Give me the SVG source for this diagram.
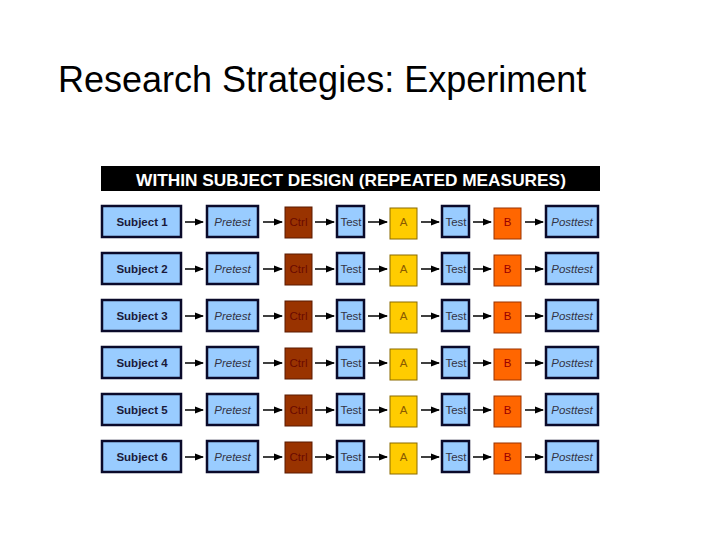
<svg xmlns="http://www.w3.org/2000/svg" width="720" height="540" viewBox="0 0 720 540">
<style>
.t{font-family:"Liberation Sans",Arial,sans-serif}
.blue{fill:#99ccff;stroke:#0a0a2a;stroke-width:2.5}
.ctrl{fill:#993300;stroke:#5a1a00;stroke-width:1}
.a{fill:#ffcc00;stroke:#8a6a00;stroke-width:1}
.b{fill:#ff6600;stroke:#993300;stroke-width:1}
.lbl{font-family:"Liberation Sans",Arial,sans-serif;font-size:11.5px;text-anchor:middle;dominant-baseline:central}
.subj{font-weight:bold;fill:#1a1a3a}
.it{font-style:italic;fill:#333344}
.tst{fill:#333344}
.ct{fill:#6a0a00}
.at{fill:#8a5a00}
.bt{fill:#990000}
.arr{stroke:#000;stroke-width:1.5;fill:none;marker-end:url(#ah)}
</style>
<defs>
<marker id="ah" markerWidth="9" markerHeight="8" refX="8" refY="4" orient="auto" markerUnits="userSpaceOnUse">
<path d="M0,0.5 L9,4 L0,7.5 Z" fill="#000"/>
</marker>
<g id="rowtpl">
<rect class="blue" x="102" y="-16" width="79" height="31"/>
<rect class="blue" x="207" y="-16" width="51" height="31"/>
<rect class="ctrl" x="285" y="-15" width="27" height="31"/>
<rect class="blue" x="337" y="-16" width="27" height="31"/>
<rect class="a" x="390" y="-14" width="27" height="31"/>
<rect class="blue" x="442" y="-16" width="27" height="31"/>
<rect class="b" x="494" y="-14" width="27" height="31"/>
<rect class="blue" x="546" y="-16" width="52" height="31"/>
<text class="lbl it" x="232.5" y="0">Pretest</text>
<text class="lbl ct" x="298.5" y="0">Ctrl</text>
<text class="lbl tst" x="351" y="0">Test</text>
<text class="lbl at" x="403.5" y="0">A</text>
<text class="lbl tst" x="456" y="0">Test</text>
<text class="lbl bt" x="507.5" y="0">B</text>
<text class="lbl it" x="572" y="0">Posttest</text>
</g>
<g id="arrtpl">
<line class="arr" x1="185" y1="0" x2="203" y2="0"/>
<line class="arr" x1="263" y1="0" x2="282" y2="0"/>
<line class="arr" x1="315" y1="0" x2="334" y2="0"/>
<line class="arr" x1="368" y1="0" x2="387" y2="0"/>
<line class="arr" x1="421" y1="0" x2="439" y2="0"/>
<line class="arr" x1="473" y1="0" x2="491" y2="0"/>
<line class="arr" x1="525" y1="0" x2="543" y2="0"/>
</g>
</defs>
<rect width="720" height="540" fill="#fff"/>
<text class="t" x="58" y="92" font-size="36" fill="#000">Research Strategies: Experiment</text>
<g id="banner">
<rect x="101" y="166" width="499" height="25" fill="#000"/>
<text class="t" x="351" y="185.5" font-size="17.3" font-weight="bold" fill="#fff" text-anchor="middle">WITHIN SUBJECT DESIGN (REPEATED MEASURES)</text>
</g>
<g id="connectors">
<use href="#arrtpl" y="222"/>
<use href="#arrtpl" y="269"/>
<use href="#arrtpl" y="316"/>
<use href="#arrtpl" y="363"/>
<use href="#arrtpl" y="410"/>
<use href="#arrtpl" y="457"/>
</g>
<g id="row1"><use href="#rowtpl" y="222"/><text class="lbl subj" x="142" y="222">Subject 1</text></g>
<g id="row2"><use href="#rowtpl" y="269"/><text class="lbl subj" x="142" y="269">Subject 2</text></g>
<g id="row3"><use href="#rowtpl" y="316"/><text class="lbl subj" x="142" y="316">Subject 3</text></g>
<g id="row4"><use href="#rowtpl" y="363"/><text class="lbl subj" x="142" y="363">Subject 4</text></g>
<g id="row5"><use href="#rowtpl" y="410"/><text class="lbl subj" x="142" y="410">Subject 5</text></g>
<g id="row6"><use href="#rowtpl" y="457"/><text class="lbl subj" x="142" y="457">Subject 6</text></g>
</svg>
